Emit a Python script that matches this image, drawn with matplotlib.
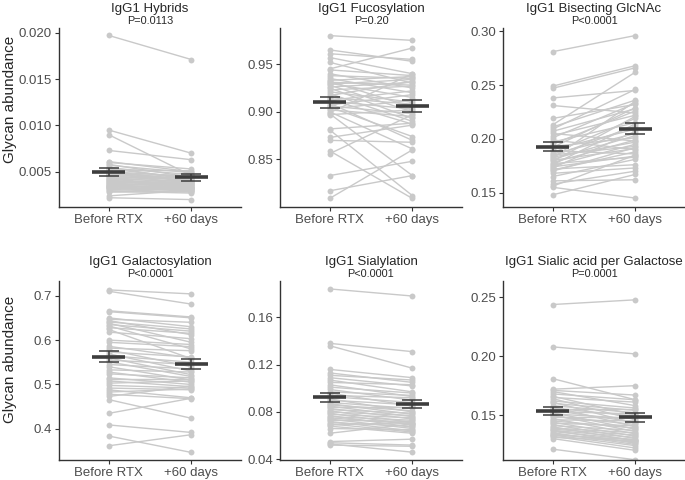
import matplotlib
matplotlib.use("Agg")
import matplotlib.pyplot as plt
import numpy as np

plt.rcParams['font.family'] = ['Liberation Sans', 'DejaVu Sans']

groups = ["Before RTX", "+60 days"]
titles = ["IgG1 Hybrids", "IgG1 Fucosylation", "IgG1 Bisecting GlcNAc",
          "IgG1 Galactosylation", "IgG1 Sialylation", "IgG1 Sialic acid per Galactose"]
pvalues = ["P=0.0113", "P=0.20", "P<0.0001", "P<0.0001", "P<0.0001", "P=0.0001"]

hyb_before = [0.0197, 0.0095, 0.0090, 0.0073, 0.0061, 0.0060, 0.0058, 0.0057, 0.0055, 0.0054,
              0.0053, 0.0052, 0.0051, 0.0050, 0.0049, 0.0048, 0.0047, 0.0046, 0.0046, 0.0045,
              0.0044, 0.0043, 0.0042, 0.0042, 0.0041, 0.0040, 0.0040, 0.0039, 0.0038, 0.0038,
              0.0037, 0.0036, 0.0036, 0.0035, 0.0035, 0.0034, 0.0034, 0.0033, 0.0032, 0.0031,
              0.0030, 0.0029, 0.0028, 0.0024, 0.0022]
hyb_after = [0.0171, 0.0070, 0.0046, 0.0063, 0.0050, 0.0053, 0.0044, 0.0049, 0.0041, 0.0047,
             0.0043, 0.0051, 0.0039, 0.0045, 0.0042, 0.0040, 0.0046, 0.0038, 0.0043, 0.0041,
             0.0037, 0.0044, 0.0036, 0.0040, 0.0035, 0.0038, 0.0034, 0.0036, 0.0039, 0.0033,
             0.0035, 0.0032, 0.0037, 0.0031, 0.0034, 0.0030, 0.0033, 0.0029, 0.0031, 0.0028,
             0.0032, 0.0027, 0.0029, 0.0030, 0.0020]

fuc_before = [0.980, 0.965, 0.961, 0.957, 0.952, 0.945, 0.944, 0.940, 0.938, 0.935,
              0.933, 0.932, 0.931, 0.930, 0.929, 0.928, 0.926, 0.925, 0.923, 0.921,
              0.919, 0.917, 0.915, 0.913, 0.912, 0.911, 0.909, 0.907, 0.906, 0.905,
              0.903, 0.902, 0.900, 0.899, 0.898, 0.897, 0.882, 0.881, 0.873, 0.870,
              0.859, 0.856, 0.833, 0.817, 0.809]
fuc_after = [0.975, 0.953, 0.955, 0.940, 0.930, 0.967, 0.938, 0.925, 0.935, 0.920,
             0.937, 0.905, 0.928, 0.915, 0.934, 0.900, 0.931, 0.893, 0.927, 0.910,
             0.890, 0.932, 0.908, 0.887, 0.922, 0.903, 0.870, 0.918, 0.898, 0.874,
             0.912, 0.895, 0.861, 0.940, 0.833, 0.902, 0.888, 0.812, 0.886, 0.868,
             0.809, 0.897, 0.848, 0.833, 0.860]

bis_before = [0.281, 0.249, 0.247, 0.238, 0.231, 0.219, 0.213, 0.211, 0.209, 0.207,
              0.205, 0.203, 0.201, 0.199, 0.197, 0.195, 0.193, 0.192, 0.190, 0.189,
              0.187, 0.186, 0.185, 0.184, 0.183, 0.182, 0.181, 0.180, 0.179, 0.178,
              0.177, 0.176, 0.175, 0.174, 0.173, 0.172, 0.171, 0.170, 0.168, 0.165,
              0.161, 0.158, 0.156, 0.155, 0.148]
bis_after = [0.296, 0.268, 0.266, 0.245, 0.224, 0.232, 0.262, 0.236, 0.246, 0.228,
             0.198, 0.222, 0.233, 0.190, 0.215, 0.226, 0.201, 0.229, 0.209, 0.186,
             0.219, 0.205, 0.193, 0.212, 0.197, 0.235, 0.203, 0.191, 0.221, 0.199,
             0.183, 0.214, 0.195, 0.184, 0.207, 0.176, 0.188, 0.192, 0.173, 0.181,
             0.162, 0.170, 0.185, 0.145, 0.167]

gal_before = [0.713, 0.710, 0.666, 0.664, 0.650, 0.647, 0.644, 0.641, 0.638, 0.635,
              0.632, 0.628, 0.624, 0.618, 0.600, 0.595, 0.586, 0.582, 0.578, 0.573,
              0.569, 0.565, 0.560, 0.555, 0.551, 0.545, 0.540, 0.533, 0.528, 0.524,
              0.515, 0.512, 0.508, 0.503, 0.498, 0.492, 0.488, 0.483, 0.478, 0.473,
              0.466, 0.435, 0.409, 0.384, 0.362]
gal_after = [0.704, 0.681, 0.652, 0.650, 0.630, 0.640, 0.612, 0.625, 0.595, 0.620,
             0.580, 0.615, 0.558, 0.603, 0.590, 0.585, 0.560, 0.576, 0.540, 0.562,
             0.530, 0.550, 0.522, 0.545, 0.518, 0.535, 0.510, 0.528, 0.505, 0.515,
             0.500, 0.512, 0.495, 0.508, 0.492, 0.488, 0.470, 0.490, 0.468, 0.497,
             0.424, 0.469, 0.392, 0.347, 0.387]

sia_before = [0.184, 0.138, 0.136, 0.116, 0.113, 0.111, 0.109, 0.107, 0.105, 0.103,
              0.101, 0.099, 0.097, 0.096, 0.094, 0.093, 0.091, 0.090, 0.088, 0.087,
              0.086, 0.085, 0.084, 0.083, 0.082, 0.081, 0.080, 0.079, 0.078, 0.077,
              0.076, 0.075, 0.074, 0.073, 0.072, 0.071, 0.070, 0.069, 0.068, 0.066,
              0.062, 0.055, 0.054, 0.053, 0.052]
sia_after = [0.178, 0.131, 0.117, 0.109, 0.105, 0.107, 0.102, 0.097, 0.103, 0.093,
             0.096, 0.090, 0.094, 0.085, 0.092, 0.088, 0.080, 0.086, 0.083, 0.078,
             0.081, 0.076, 0.084, 0.074, 0.079, 0.071, 0.077, 0.069, 0.075, 0.067,
             0.073, 0.070, 0.066, 0.072, 0.064, 0.068, 0.063, 0.071, 0.062, 0.065,
             0.070, 0.057, 0.052, 0.046, 0.051]

sag_before = [0.244, 0.208, 0.181, 0.172, 0.171, 0.170, 0.168, 0.166, 0.165, 0.164,
              0.162, 0.161, 0.160, 0.158, 0.157, 0.156, 0.155, 0.154, 0.153, 0.152,
              0.151, 0.150, 0.149, 0.148, 0.147, 0.146, 0.145, 0.144, 0.143, 0.142,
              0.141, 0.140, 0.139, 0.138, 0.137, 0.137, 0.136, 0.135, 0.134, 0.133,
              0.133, 0.132, 0.131, 0.130, 0.121]
sag_after = [0.248, 0.202, 0.163, 0.175, 0.167, 0.158, 0.163, 0.150, 0.161, 0.146,
             0.156, 0.143, 0.154, 0.152, 0.140, 0.149, 0.155, 0.144, 0.151, 0.138,
             0.147, 0.136, 0.142, 0.148, 0.134, 0.145, 0.139, 0.132, 0.141, 0.130,
             0.137, 0.128, 0.135, 0.133, 0.126, 0.131, 0.129, 0.125, 0.127, 0.124,
             0.129, 0.122, 0.128, 0.120, 0.112]

# mean and standard error
means_before = [0.00495, 0.9098, 0.1926, 0.563, 0.0924, 0.1534]
means_after = [0.0044, 0.9063, 0.2093, 0.546, 0.0870, 0.1483]
se_before = [0.00043, 0.0058, 0.0043, 0.0128, 0.0037, 0.0037]
se_after = [0.00036, 0.0063, 0.0051, 0.0120, 0.0035, 0.0038]

befores = [hyb_before, fuc_before, bis_before, gal_before, sia_before, sag_before]
afters = [hyb_after, fuc_after, bis_after, gal_after, sia_after, sag_after]

ylims = [(0.0012, 0.0205), (0.800, 0.988), (0.1367, 0.303),
         (0.330, 0.733), (0.0394, 0.1907), (0.1118, 0.264)]
yticks = [[0.005, 0.010, 0.015, 0.020], [0.85, 0.90, 0.95], [0.15, 0.20, 0.25, 0.30],
          [0.4, 0.5, 0.6, 0.7], [0.04, 0.08, 0.12, 0.16], [0.15, 0.20, 0.25]]
yfmt = ["{:.3f}", "{:.2f}", "{:.2f}", "{:.1f}", "{:.2f}", "{:.2f}"]

W, H = 685, 480
fig = plt.figure(figsize=(W / 100, H / 100), dpi=100)

lefts = [59, 280, 503]
axw = 182
tops = [28, 281]
axh = 179
ylabel_y = [0.60, 0.56]

pt_col = "#c9c9c9"
dark = "#3d3d3d"
txt = "#262626"
tick_col = "#4d4d4d"

for i in range(6):
    r, c = divmod(i, 3)
    ax = fig.add_axes([lefts[c] / W, 1 - (tops[r] + axh) / H, axw / W, axh / H])
    b = befores[i]
    a = afters[i]
    xs = [1, 2]
    for yb, ya in zip(b, a):
        ax.plot(xs, [yb, ya], color=pt_col, lw=1.0, zorder=1)
    ax.scatter([1] * len(b), b, s=18, color=pt_col, zorder=2, linewidths=0)
    ax.scatter([2] * len(a), a, s=18, color=pt_col, zorder=2, linewidths=0)
    for x, m, se in zip(xs, [means_before[i], means_after[i]], [se_before[i], se_after[i]]):
        ax.plot([x - 0.2, x + 0.2], [m, m], color=dark, lw=2.6, solid_capstyle='butt', zorder=4)
        ax.errorbar([x], [m], yerr=[se], color=dark, lw=1.1, capsize=7.5, capthick=1.1,
                    fmt='none', zorder=5)
    ax.set_xlim(0.4, 2.6)
    ax.set_ylim(*ylims[i])
    ax.set_xticks(xs)
    ax.set_xticklabels(groups)
    ax.set_yticks(yticks[i])
    ax.set_yticklabels([yfmt[i].format(v) for v in yticks[i]])
    for s in ["top", "right"]:
        ax.spines[s].set_visible(False)
    for s in ["left", "bottom"]:
        ax.spines[s].set_color("#333333")
        ax.spines[s].set_linewidth(1.0)
    ax.tick_params(axis='both', direction='out', length=3, width=0.8, color="#333333",
                   labelsize=9.5, labelcolor=tick_col, pad=2)
    ax.annotate(titles[i], xy=(0.5, 1.0), xycoords='axes fraction', xytext=(0, 15.0),
                textcoords='offset points', ha='center', va='center_baseline', fontsize=9.5,
                color=txt)
    ax.annotate(pvalues[i], xy=(0.5, 1.0), xycoords='axes fraction', xytext=(0, 5.8),
                textcoords='offset points', ha='center', va='center_baseline', fontsize=7.8,
                color=txt)
    if c == 0:
        ax.set_ylabel("Glycan abundance", fontsize=11, color=txt)
        ax.yaxis.set_label_coords((17 - lefts[0]) / axw, ylabel_y[r])

fig.savefig("out.png", dpi=100)
